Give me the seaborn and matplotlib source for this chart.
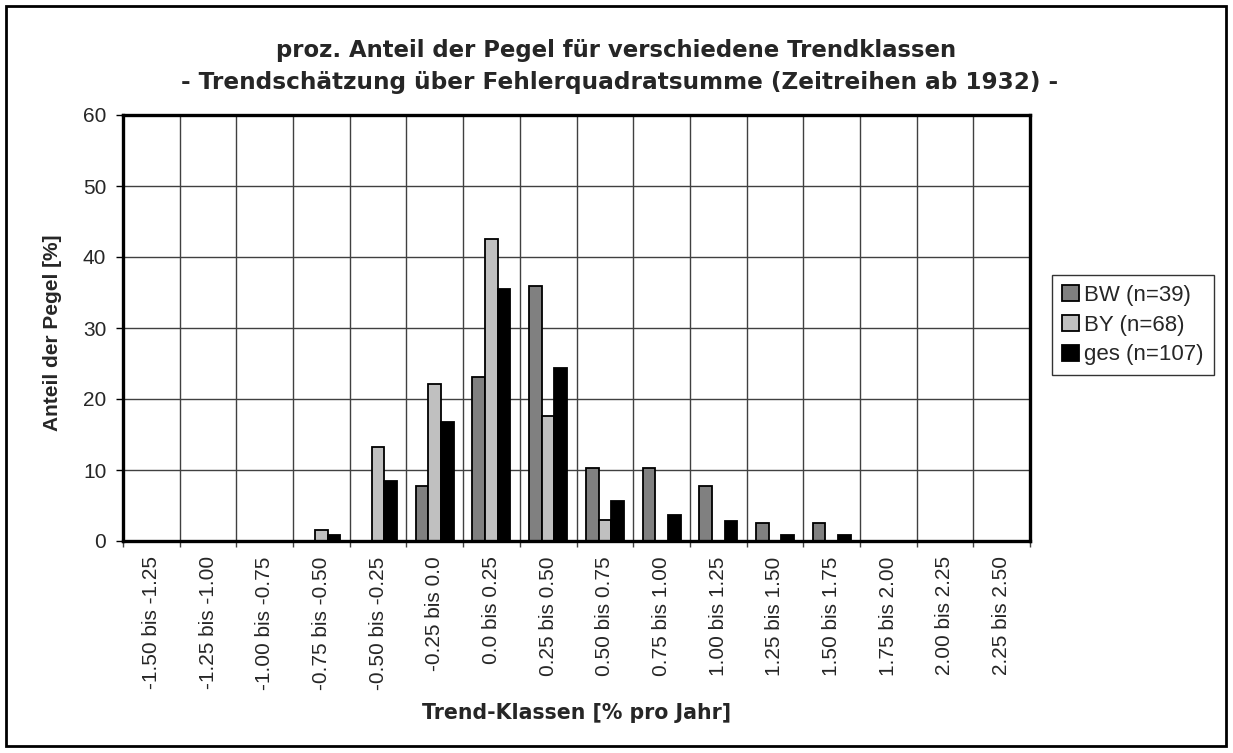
import pandas as pd
import matplotlib.pyplot as plt
import seaborn as sns
from matplotlib.patches import Rectangle

classes = ['-1.50 bis -1.25', '-1.25 bis -1.00', '-1.00 bis -0.75', '-0.75 bis -0.50',
           '-0.50 bis -0.25', '-0.25 bis 0.0', '0.0 bis 0.25', '0.25 bis 0.50',
           '0.50 bis 0.75', '0.75 bis 1.00', '1.00 bis 1.25', '1.25 bis 1.50',
           '1.50 bis 1.75', '1.75 bis 2.00', '2.00 bis 2.25', '2.25 bis 2.50']
bw = [0, 0, 0, 0, 0, 7.7, 23.1, 35.9, 10.3, 10.3, 7.7, 2.6, 2.6, 0, 0, 0]
by = [0, 0, 0, 1.5, 13.2, 22.1, 42.6, 17.6, 2.9, 0, 0, 0, 0, 0, 0, 0]
ges = [0, 0, 0, 0.9, 8.4, 16.8, 35.5, 24.3, 5.6, 3.7, 2.8, 0.9, 0.9, 0, 0, 0]
series = ['BW (n=39)', 'BY (n=68)', 'ges (n=107)']
colors = ['#808080', '#c0c0c0', '#000000']
yticks = [0, 10, 20, 30, 40, 50, 60]

df = pd.DataFrame({
    'Klasse': classes * 3,
    'Anteil': bw + by + ges,
    'Gebiet': [series[0]] * 16 + [series[1]] * 16 + [series[2]] * 16,
})

sns.set_style('white')
plt.rcParams['font.family'] = ['Liberation Sans', 'DejaVu Sans']

W, H = 1233, 753
fig = plt.figure(figsize=(W / 100, H / 100), dpi=100)
ax = fig.add_axes([123 / W, 1 - 541 / H, (1030 - 123) / W, (541 - 115) / H])

sns.barplot(data=df, x='Klasse', y='Anteil', hue='Gebiet', order=classes,
            hue_order=series, palette=colors, width=0.67, edgecolor='black',
            linewidth=1.3, ax=ax, legend=True)

ax.set_ylim(0, 60)
ax.set_xlim(-0.5, 15.5)
ax.set_yticks(yticks)
ax.set_yticklabels([str(v) for v in yticks], fontsize=15)
ax.set_xticks(range(16))
ax.set_xticklabels(classes, rotation=90, fontsize=15)
ax.set_xticks([i - 0.5 for i in range(17)], minor=True)
ax.tick_params(axis='x', which='major', length=0, pad=11)
ax.tick_params(axis='x', which='minor', bottom=True, length=4, width=1,
               color='#444444', direction='out')
ax.tick_params(axis='y', left=True, length=5, width=1, color='black',
               direction='out', pad=7)

ax.grid(False)
ax.grid(True, axis='y', which='major', color='#404040', lw=1)
ax.grid(True, axis='x', which='minor', color='#404040', lw=1)
ax.set_axisbelow(True)

for s in ax.spines.values():
    s.set_visible(True)
    s.set_color('black')
    s.set_linewidth(2.4)

ax.set_ylabel('Anteil der Pegel [%]', fontsize=15, fontweight='bold')
ax.yaxis.set_label_coords((62 - 123) / 907, 0.49)
ax.set_xlabel('Trend-Klassen [% pro Jahr]', fontweight='bold',
              family='DejaVu Sans')
ax.xaxis.label.set_va('center')
ax.xaxis.set_label_coords(0.5, (541 - 713) / 426)

ax.legend_.remove()
handles, labels = ax.get_legend_handles_labels()
leg = fig.legend(handles, labels, loc='center left',
                 bbox_to_anchor=(1052 / W, 1 - 325 / H), fontsize=16,
                 frameon=True, fancybox=False, edgecolor='black',
                 handlelength=0.75, handleheight=0.75, handletextpad=0.25,
                 borderpad=0.45, labelspacing=0.4, borderaxespad=0)
leg.get_frame().set_linewidth(1)

t1 = fig.text(616 / W, 1 - 50 / H, 'proz. Anteil der Pegel für verschiedene Trendklassen',
              ha='center', va='center', fontweight='bold', family='DejaVu Sans')
t2 = fig.text(620 / W, 1 - 82 / H,
              '- Trendschätzung über Fehlerquadratsumme (Zeitreihen ab 1932) -',
              ha='center', va='center', fontweight='bold', family='DejaVu Sans')

# the original uses wide letter spacing; fit each bold text to its width
renderer = fig.canvas.get_renderer()
for txt, target in [(t1, 680), (t2, 870), (ax.xaxis.label, 310)]:
    txt.set_fontsize(14)
    for _ in range(3):
        w = txt.get_window_extent(renderer).width
        txt.set_fontsize(txt.get_fontsize() * target / w)

fig.patches.append(Rectangle((6 / W, 7 / H), 1220 / W, 740 / H,
                             transform=fig.transFigure, fill=False,
                             edgecolor='black', linewidth=2))

fig.savefig('out.png', dpi=100, facecolor='white')
